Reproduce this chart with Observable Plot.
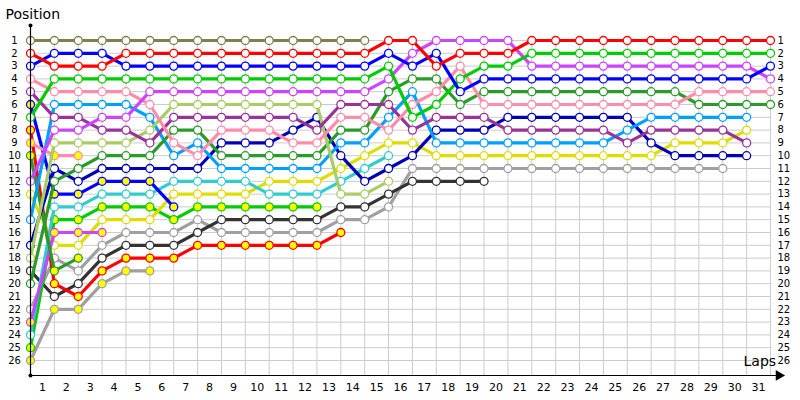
<!DOCTYPE html>
<html><head><meta charset="utf-8">
<script src="https://cdn.jsdelivr.net/npm/d3@7"></script>
<script src="https://cdn.jsdelivr.net/npm/@observablehq/plot@0.6"></script>
<style>body{margin:0;background:#fff}#chart{width:800px;height:400px}</style>
</head><body><div id="chart"></div>
<script>
// Tick labels
const lapLabels = [1,2,3,4,5,6,7,8,9,10,11,12,13,14,15,16,17,18,19,20,21,22,23,24,25,26,27,28,29,30,31];
const positionLabels = [1,2,3,4,5,6,7,8,9,10,11,12,13,14,15,16,17,18,19,20,21,22,23,24,25,26];

// Positions per lap, starting with the grid (lap 0)
const olive    = [1,1,1,1,1,1,1,1,1,1,1,1,1,1,1];
const red      = [2,3,3,3,2,2,2,2,2,2,2,2,2,2,2,1,1,3,2,2,2,1,1,1,1,1,1,1,1,1,1,1];
const blue     = [3,2,2,2,3,3,3,3,3,3,3,3,3,3,3,2,3,2,5,4,4,4,4,4,4,4,4,4,4,4,4,3];
const green    = [7,4,4,4,4,4,4,4,4,4,4,4,4,4,4,3,7,6,4,3,3,2,2,2,2,2,2,2,2,2,2,2];
const violet   = [12,8,8,7,7,5,5,5,5,5,5,5,5,5,5,4,2,1,1,1,1,3,3,3,3,3,3,3,3,3,3,4];
const pink     = [4,5,5,5,5,6,9,10,8,8,8,9,9,7,7,8,6,5,3,6,6,6,6,6,6,6,6,6,5,5,5,5];
const purple   = [5,7,7,8,8,9,7,7,7,7,7,7,8,6,6,6,8,7,7,7,8,8,8,8,8,9,8,8,8,8,9];
const lightGreen = [18,9,9,9,9,8,6,6,6,6,6,6,6,13,13,12];
const lightBlue  = [15,6,6,6,6,7,10,9,11,11,11,11,11,9,9,7,5,9,9,9,9,9,9,9,9,8,7,7,7,7,7];
const darkGreen  = [20,12,11,10,10,10,8,8,10,10,10,10,10,8,8,5,4,4,6,5,5,5,5,5,5,5,5,5,6,6,6,6];
const navy     = [17,11,12,11,11,11,11,11,9,9,9,8,7,10,12,11,10,8,8,8,7,7,7,7,7,7,9,10,10,10,10];
const teal     = [24,14,14,13,13,13,12,12,12,12,13,13,13,12,11,10];
const yellow   = [13,17,17,15,15,15,13,13,13,13,12,12,12,11,10,9,9,10,10,10,10,10,10,10,10,10,10,9,9,9,8];
const black    = [19,21,20,18,17,17,17,16,15,15,15,15,15,14,14,13,12,12,12,12];
const gray     = [22,18,19,17,16,16,16,15,16,16,16,16,16,15,15,14,11,11,11,11,11,11,11,11,11,11,11,11,11,11];
const redY     = [8,20,21,19,18,18,18,17,17,17,17,17,17,16];
const grayY    = [26,22,22,20,19,19];
const greenY   = [25,15,15,14,14,14,15,14,14,14,14,14,14];
const violetY  = [23,16,16,16];
const blueY    = [6,13,13,12,12,12,14];
const darkGreenY = [10,19,18];
const pinkY    = [9,10,10];

// Styles (kept apart from the data)
const W = "#ffffff", Y = "#ffff00";
const series = [
  {name:"gray", values:gray, color:"#a0a0a0", fill:W},
  {name:"grayY", values:grayY, color:"#a0a0a0", fill:Y},
  {name:"black", values:black, color:"#333333", fill:W},
  {name:"redY", values:redY, color:"#ff0000", fill:Y},
  {name:"greenY", values:greenY, color:"#00cc00", fill:Y},
  {name:"yellow", values:yellow, color:"#dddd00", fill:W},
  {name:"teal", values:teal, color:"#33cccc", fill:W},
  {name:"blueY", values:blueY, color:"#0000ff", fill:Y},
  {name:"violetY", values:violetY, color:"#cc44ff", fill:Y},
  {name:"darkGreenY", values:darkGreenY, color:"#2a9a2a", fill:Y},
  {name:"pinkY", values:pinkY, color:"#ff8caa", fill:Y},
  {name:"navy", values:navy, color:"#0000b4", fill:W},
  {name:"lightBlue", values:lightBlue, color:"#00a0ff", fill:W},
  {name:"darkGreen", values:darkGreen, color:"#2a9a2a", fill:W},
  {name:"lightGreen", values:lightGreen, color:"#aacc66", fill:W},
  {name:"purple", values:purple, color:"#993399", fill:W},
  {name:"pink", values:pink, color:"#ff8caa", fill:W},
  {name:"violet", values:violet, color:"#cc44ff", fill:W},
  {name:"green", values:green, color:"#00cc00", fill:W},
  {name:"blue", values:blue, color:"#0000ff", fill:W},
  {name:"red", values:red, color:"#ff0000", fill:W},
  {name:"olive", values:olive, color:"#80804e", fill:W}
];
const rowsOf = s => s.values.map((p, i) => ({lap: i, pos: p}));

const lastLap = 31;
const yTop = -0.17, yBottom = 27.17, xRight = 31.35;

const chart = Plot.plot({
  width: 800, height: 400, margin: 0,
  x: {domain: [0, lastLap], range: [30, 770], axis: null},
  y: {domain: [1, 26], range: [40, 360], axis: null},
  style: {fontFamily: "DejaVu Sans", background: "white", color: "black"},
  marks: [
    Plot.ruleY(positionLabels, {x1: 0, x2: lastLap, stroke: "#cccccc", strokeWidth: 1}),
    Plot.ruleX(lapLabels, {y1: 1, y2: yBottom, stroke: "#cccccc", strokeWidth: 1}),
    ...series.flatMap(s => [
      Plot.line(rowsOf(s), {x: "lap", y: "pos", stroke: s.color, strokeWidth: 3.2, curve: "linear"}),
      Plot.dot(rowsOf(s), {x: "lap", y: "pos", r: 4, fill: s.fill, stroke: s.color, strokeWidth: 1.3})
    ]),
    // axes
    Plot.ruleX([0], {y1: yTop, y2: yBottom, stroke: "black", strokeWidth: 1.2}),
    Plot.ruleY([yBottom], {x1: 0, x2: xRight, stroke: "black", strokeWidth: 1.2}),
    Plot.dot([0], {x: 0, y: yTop, r: 2, fill: "black", stroke: "none"}),
    Plot.dot([0], {x: 0, y: yBottom, r: 2, fill: "black", stroke: "none"}),
    Plot.dot([0], {x: xRight, y: yBottom, symbol: "triangle", rotate: 90, r: 4, fill: "black", stroke: "none"}),
    Plot.text(positionLabels, {x: 0, y: d => d, dx: -16, text: d => String(d), textAnchor: "middle", fontSize: 10}),
    Plot.text(positionLabels, {x: lastLap, y: d => d, dx: 7, text: d => String(d), textAnchor: "start", fontSize: 10}),
    Plot.text(lapLabels, {x: d => d - 0.5, y: yBottom, dy: 12, text: d => String(d), textAnchor: "middle", fontSize: 11}),
    Plot.text(["Position"], {frameAnchor: "top-left", dx: 5, dy: 9, lineAnchor: "top", textAnchor: "start", fontSize: 14}),
    Plot.text(["Laps"], {frameAnchor: "top-left", dx: 743, dy: 356, lineAnchor: "top", textAnchor: "start", fontSize: 14})
  ]
});
document.getElementById("chart").appendChild(chart);
</script>
</body></html>
